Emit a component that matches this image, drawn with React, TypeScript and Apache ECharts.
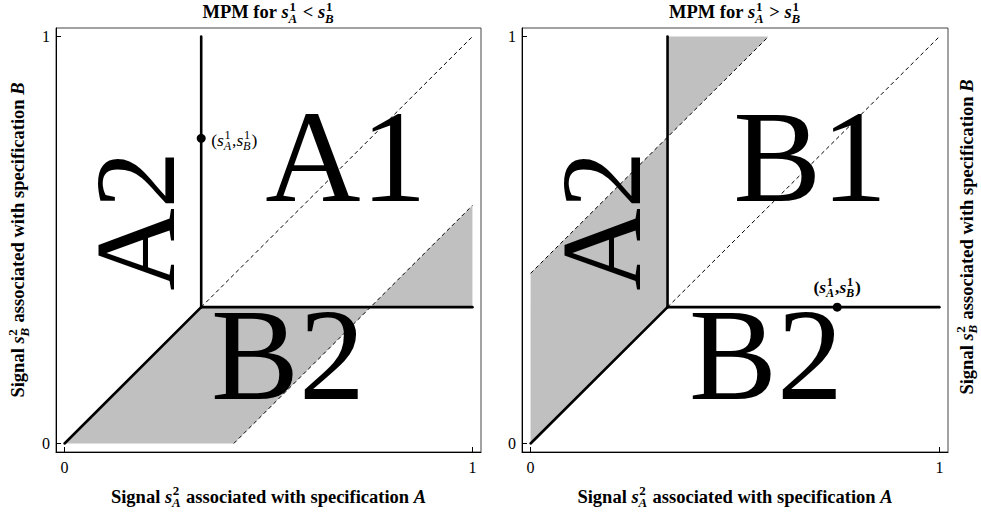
import React, { useEffect, useRef } from "react";
import * as echarts from "echarts";

const SERIF = "Liberation Serif";

// axis ticks
const TICK_VALUES = [0, 1];
const TICK_LABELS = ["0", "1"];

// ---------- Left panel: MPM for s_A^1 < s_B^1 ----------
const leftPoint = [0.335, 0.75];
const leftThick = [
  [[0, 0], [0.335, 0.335]],
  [[0.335, 0.335], [0.335, 1]],
  [[0.335, 0.335], [1, 0.335]],
];
const leftDashed = [
  [[0.335, 0.335], [1, 1]],
  [[0.415, 0], [1, 0.585]],
];
const leftGray = [
  [[0, 0], [0.335, 0.335], [0.75, 0.335], [0.415, 0]],
  [[0.75, 0.335], [1, 0.335], [1, 0.585]],
];
const leftRegionNames = ["A1", "B2", "A2"];
const leftRegionAnchors = [[0.69, 0.704], [0.548, 0.219], [0.174, 0.547]];
const leftRegionRotations = [0, 0, 90];

// ---------- Right panel: MPM for s_A^1 > s_B^1 ----------
const rightPoint = [0.75, 0.335];
const rightThick = [
  [[0, 0], [0.335, 0.335]],
  [[0.335, 0.335], [0.335, 1]],
  [[0.335, 0.335], [1, 0.335]],
];
const rightDashed = [
  [[0.335, 0.335], [1, 1]],
  [[0, 0.418], [0.582, 1]],
];
const rightGray = [
  [[0, 0], [0.335, 0.335], [0.335, 0.753], [0, 0.418]],
  [[0.335, 0.753], [0.335, 1], [0.582, 1]],
];
const rightRegionNames = ["B1", "B2", "A2"];
const rightRegionAnchors = [[0.684, 0.706], [0.576, 0.219], [0.174, 0.547]];
const rightRegionRotations = [0, 0, 90];

type Tok = { t: string; i?: boolean; sup?: string; sub?: string };

const leftTitle: Tok[] = [
  { t: "MPM for " },
  { t: "s", i: true, sup: "1", sub: "A" },
  { t: " < " },
  { t: "s", i: true, sup: "1", sub: "B" },
];
const rightTitle: Tok[] = [
  { t: "MPM for " },
  { t: "s", i: true, sup: "1", sub: "A" },
  { t: " > " },
  { t: "s", i: true, sup: "1", sub: "B" },
];
const xName: Tok[] = [
  { t: "Signal " },
  { t: "s", i: true, sup: "2", sub: "A" },
  { t: " associated with specification " },
  { t: "A", i: true },
];
const yName: Tok[] = [
  { t: "Signal " },
  { t: "s", i: true, sup: "2", sub: "B" },
  { t: " associated with specification " },
  { t: "B", i: true },
];
const pointLabel: Tok[] = [
  { t: "(" },
  { t: "s", i: true, sup: "1", sub: "A" },
  { t: "," },
  { t: "s", i: true, sup: "1", sub: "B" },
  { t: ")" },
];

let measureCtx: CanvasRenderingContext2D | null = null;
function measure(text: string, size: number, bold: boolean, italic: boolean) {
  if (!measureCtx) measureCtx = document.createElement("canvas").getContext("2d");
  if (!measureCtx) return text.length * size * 0.5;
  measureCtx.font = `${italic ? "italic " : ""}${bold ? "bold " : ""}${size}px "${SERIF}"`;
  return measureCtx.measureText(text).width;
}

function mathGroup(
  tokens: Tok[],
  size: number,
  bold: boolean,
  x: number,
  y: number,
  anchor: "center" | "left",
  rotation = 0
) {
  const ss = size * 0.7;
  const children: any[] = [];
  const mk = (text: string, tx: number, baseline: number, sz: number, italic: boolean) => ({
    type: "text",
    x: tx,
    y: baseline - 0.34 * sz,
    style: {
      text,
      fill: "#000",
      fontSize: sz,
      fontFamily: SERIF,
      fontWeight: bold ? "bold" : "normal",
      fontStyle: italic ? "italic" : "normal",
      align: "left",
      verticalAlign: "middle",
    },
  });
  let cx = 0;
  for (const tk of tokens) {
    children.push(mk(tk.t, cx, 0, size, !!tk.i));
    cx += measure(tk.t, size, bold, !!tk.i);
    if (tk.sup || tk.sub) {
      let w = 0;
      if (tk.sup) {
        children.push(mk(tk.sup, cx + 0.04 * size, -0.42 * size, ss, false));
        w = Math.max(w, measure(tk.sup, ss, bold, false) + 0.04 * size);
      }
      if (tk.sub) {
        children.push(mk(tk.sub, cx - 0.01 * size, 0.22 * size, ss, true));
        w = Math.max(w, measure(tk.sub, ss, bold, true) - 0.01 * size);
      }
      cx += w + 0.05 * size;
    }
  }
  const off = anchor === "center" ? -cx / 2 : 0;
  children.forEach((c) => (c.x += off));
  return { type: "group", x, y, rotation, silent: true, children };
}

function panelSeries(
  gi: number,
  gray: number[][][],
  thick: number[][][],
  dashed: number[][][],
  point: number[],
  names: string[],
  anchors: number[][],
  rotations: number[]
) {
  const s: any[] = [];
  s.push({
    type: "custom",
    xAxisIndex: gi,
    yAxisIndex: gi,
    silent: true,
    z: 1,
    data: gray.map((_, i) => [i]),
    renderItem: (_p: any, api: any) => {
      const poly = gray[api.value(0)];
      return {
        type: "polygon",
        shape: { points: poly.map((pt) => api.coord(pt)) },
        style: { fill: "#c0c0c0", stroke: "none" },
      };
    },
  });
  s.push({
    type: "scatter",
    xAxisIndex: gi,
    yAxisIndex: gi,
    silent: true,
    z: 2,
    symbolSize: 1,
    itemStyle: { color: "rgba(0,0,0,0)", opacity: 1 },
    data: names.map((n, i) => ({
      name: n,
      value: anchors[i],
      label: { rotate: rotations[i], fontSize: rotations[i] ? 114 : 132 },
    })),
    label: {
      show: true,
      position: "inside",
      formatter: "{b}",
      fontSize: 132,
      fontFamily: SERIF,
      color: "#000",
      opacity: 1,
    },
  });
  dashed.forEach((seg) =>
    s.push({
      type: "line",
      xAxisIndex: gi,
      yAxisIndex: gi,
      silent: true,
      z: 3,
      symbol: "none",
      data: seg,
      lineStyle: { color: "#000", width: 1, type: [4, 3] },
    })
  );
  thick.forEach((seg) =>
    s.push({
      type: "line",
      xAxisIndex: gi,
      yAxisIndex: gi,
      silent: true,
      z: 4,
      symbol: "none",
      data: seg,
      lineStyle: { color: "#000", width: 2.6, cap: "round" },
    })
  );
  s.push({
    type: "scatter",
    xAxisIndex: gi,
    yAxisIndex: gi,
    silent: true,
    z: 5,
    symbol: "circle",
    symbolSize: 9,
    itemStyle: { color: "#000", opacity: 1 },
    data: [point],
  });
  return s;
}

function axis(gi: number, isX: boolean) {
  return {
    gridIndex: gi,
    type: "value",
    min: -0.021,
    max: 1.021,
    position: isX ? "bottom" : "left",
    axisLine: { show: true, onZero: false, lineStyle: { color: "#000", width: 1 } },
    axisTick: {
      show: true,
      inside: true,
      length: 5,
      customValues: TICK_VALUES,
      lineStyle: { color: "#000", width: 1 },
    },
    axisLabel: {
      show: true,
      customValues: TICK_VALUES,
      formatter: (v: number) => TICK_LABELS[TICK_VALUES.indexOf(v)] ?? "",
      fontFamily: SERIF,
      fontSize: 16,
      color: "#000",
      margin: isX ? 7 : 6,
    },
    splitLine: { show: false },
  };
}

export default function App() {
  const ref = useRef<HTMLDivElement>(null);
  useEffect(() => {
    if (!ref.current) return;
    const chart = echarts.init(ref.current, undefined, { renderer: "svg" });
    const gridBase = {
      top: 28,
      height: 424,
      show: true,
      borderColor: "#444",
      borderWidth: 1,
      backgroundColor: "#fff",
      containLabel: false,
      outerBoundsMode: "none",
    };
    chart.setOption({
      animation: false,
      backgroundColor: "#fff",
      textStyle: { fontFamily: SERIF },
      grid: [
        { ...gridBase, left: 56, width: 425 },
        { ...gridBase, left: 522, width: 426 },
      ],
      xAxis: [axis(0, true), axis(1, true)],
      yAxis: [axis(0, false), axis(1, false)],
      series: [
        ...panelSeries(0, leftGray, leftThick, leftDashed, leftPoint, leftRegionNames, leftRegionAnchors, leftRegionRotations),
        ...panelSeries(1, rightGray, rightThick, rightDashed, rightPoint, rightRegionNames, rightRegionAnchors, rightRegionRotations),
      ],
    });

    const lp = chart.convertToPixel({ gridIndex: 0 }, leftPoint) as number[];
    const rp = chart.convertToPixel({ gridIndex: 1 }, rightPoint) as number[];

    chart.setOption({
      graphic: [
        mathGroup(leftTitle, 18.5, true, 268.5, 18.5, "center"),
        mathGroup(rightTitle, 18.5, true, 735, 18.5, "center"),
        mathGroup(xName, 18.5, true, 268.5, 503, "center"),
        mathGroup(xName, 18.5, true, 735, 503, "center"),
        mathGroup(yName, 18.5, true, 24.5, 240, "center", Math.PI / 2),
        mathGroup(yName, 18.5, true, 973, 237, "center", Math.PI / 2),
        mathGroup(pointLabel, 17.5, false, lp[0] + 10, lp[1] + 8, "left"),
        mathGroup(pointLabel, 17.5, true, rp[0], rp[1] - 14, "center"),
      ],
    });
    return () => chart.dispose();
  }, []);
  return <div ref={ref} style={{ width: 981, height: 518, position: "absolute", left: 0, top: 0 }} />;
}
